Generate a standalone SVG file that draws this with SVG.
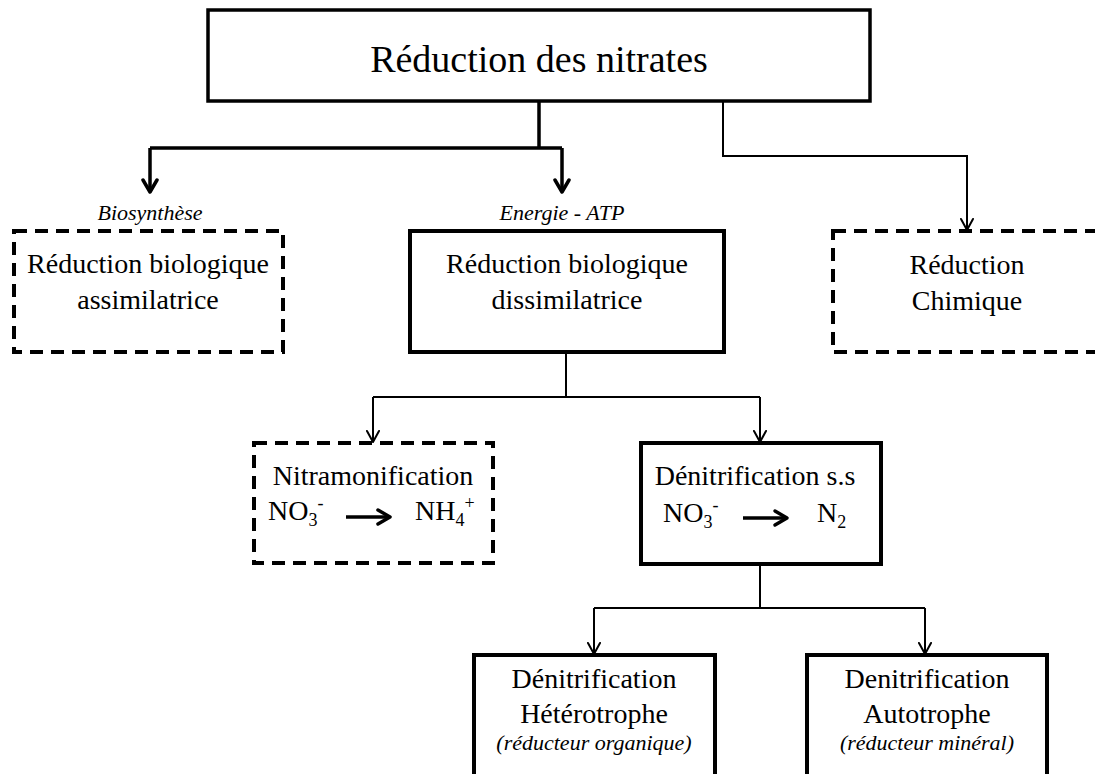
<svg xmlns="http://www.w3.org/2000/svg" width="1095" height="774" viewBox="0 0 1095 774">
<style>
.t{font-family:"Liberation Serif","Times New Roman",serif;fill:#000;text-anchor:middle}
.m{font-size:28px}
.i{font-size:22px;font-style:italic}
.box{fill:#fff;stroke:#000;stroke-width:4}
.dash{fill:#fff;stroke:#000;stroke-width:4;stroke-dasharray:13 8}
.thick{fill:none;stroke:#000;stroke-width:3.5}
.thin{fill:none;stroke:#000;stroke-width:2}
.head{fill:none;stroke:#000;stroke-linecap:round;stroke-linejoin:round}
</style>
<rect width="1095" height="774" fill="#fff"/>
<g id="connectors">
<path class="thick" d="M539,101 V148 M150,148 H562 M150,148 V190 M562,148 V190"/>
<path class="head" stroke-width="3.5" d="M143,180 L150,192 L157,180 M555,180 L562,192 L569,180"/>
<path class="thin" d="M723,101 V156 H967 V229"/>
<path class="head" stroke-width="2" d="M961,219 L967,230 L973,219"/>
<path class="thin" d="M566,352 V397 M373,397 H760 M373,397 V441 M760,397 V441"/>
<path class="head" stroke-width="2" d="M367,431 L373,442 L379,431 M754,431 L760,442 L766,431"/>
<path class="thin" d="M760,564 V608 M594,608 H925 M594,608 V653 M925,608 V653"/>
<path class="head" stroke-width="2" d="M588,643 L594,654 L600,643 M919,643 L925,654 L931,643"/>
</g>
<g id="n-top">
<rect x="208" y="10" width="662" height="91" fill="#fff" stroke="#000" stroke-width="3.5"/>
<text class="t" x="539" y="72" font-size="38">Réduction des nitrates</text>
</g>
<g id="lbl-bio"><text class="t i" x="150" y="220">Biosynthèse</text></g>
<g id="lbl-atp"><text class="t i" x="562" y="220">Energie - ATP</text></g>
<g id="n-assim">
<rect class="dash" x="14" y="231" width="269" height="121"/>
<text class="t m" x="148" y="273">Réduction biologique</text>
<text class="t m" x="148" y="309">assimilatrice</text>
</g>
<g id="n-dissim">
<rect class="box" x="410" y="231" width="314" height="121"/>
<text class="t m" x="567" y="273">Réduction biologique</text>
<text class="t m" x="567" y="309">dissimilatrice</text>
</g>
<g id="n-chim">
<rect class="dash" x="833" y="231" width="272" height="121"/>
<text class="t m" x="967" y="274">Réduction</text>
<text class="t m" x="967" y="310">Chimique</text>
</g>
<g id="n-nitram">
<rect class="dash" x="254" y="443" width="239" height="120"/>
<text class="t m" x="373" y="485">Nitramonification</text>
<text class="t m" x="268" y="520" style="text-anchor:start">NO<tspan font-size="18" dy="6">3</tspan><tspan font-size="18" dy="-17">-</tspan></text>
<path d="M346,517 H388" stroke="#000" stroke-width="3.5"/>
<path d="M378,510 L390,517 L378,524" class="head" stroke-width="3.5"/>
<text class="t m" x="415" y="520" style="text-anchor:start">NH<tspan font-size="18" dy="6">4</tspan><tspan font-size="18" dy="-17">+</tspan></text>
</g>
<g id="n-denit">
<rect class="box" x="641" y="443" width="240" height="121"/>
<text class="t m" x="755" y="485">Dénitrification s.s</text>
<text class="t m" x="663" y="522" style="text-anchor:start">NO<tspan font-size="18" dy="6">3</tspan><tspan font-size="18" dy="-17">-</tspan></text>
<path d="M743,518 H785" stroke="#000" stroke-width="3.5"/>
<path d="M775,511 L787,518 L775,525" class="head" stroke-width="3.5"/>
<text class="t m" x="817" y="522" style="text-anchor:start">N<tspan font-size="18" dy="6">2</tspan></text>
</g>
<g id="n-hetero">
<rect class="box" x="474" y="655" width="241" height="130"/>
<text class="t m" x="594" y="688">Dénitrification</text>
<text class="t m" x="594" y="723">Hétérotrophe</text>
<text class="t i" x="594" y="750">(réducteur organique)</text>
</g>
<g id="n-auto">
<rect class="box" x="807" y="655" width="240" height="130"/>
<text class="t m" x="927" y="688">Denitrification</text>
<text class="t m" x="927" y="723">Autotrophe</text>
<text class="t i" x="927" y="750">(réducteur minéral)</text>
</g>
</svg>
